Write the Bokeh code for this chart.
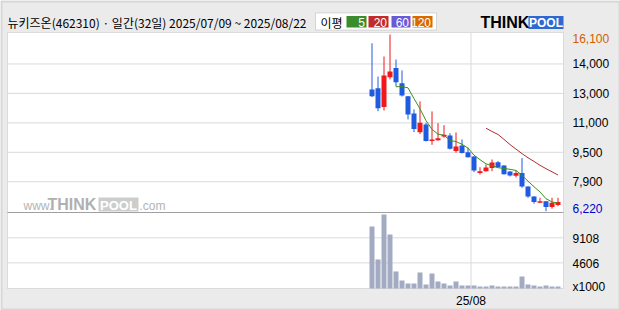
import pandas as pd
from bokeh.plotting import figure
from bokeh.models import Range1d, Label, BoxAnnotation
from bokeh.core.properties import value
from bokeh.embed import file_html
from bokeh.resources import INLINE

# ---------------- data ----------------
stock_name = "뉴키즈온(462310)"
period_text = "일간(32일) 2025/07/09 ~ 2025/08/22"
dates = ["2025-07-09", "2025-07-10", "2025-07-11", "2025-07-14", "2025-07-15", "2025-07-16",
         "2025-07-17", "2025-07-18", "2025-07-21", "2025-07-22", "2025-07-23", "2025-07-24",
         "2025-07-25", "2025-07-28", "2025-07-29", "2025-07-30", "2025-07-31", "2025-08-01",
         "2025-08-04", "2025-08-05", "2025-08-06", "2025-08-07", "2025-08-08", "2025-08-11",
         "2025-08-12", "2025-08-13", "2025-08-14", "2025-08-18", "2025-08-19", "2025-08-20",
         "2025-08-21", "2025-08-22"]
opens = [13030, 13100, 12040, 13710, 14220, 13380, 12650, 11680, 10640, 11070, 10140, 10190,
         10400, 10450, 9580, 9900, 9520, 9280, 8350, 8460, 8630, 8960, 8780, 8440,
         8200, 8350, 7600, 7040, 6690, 6780, 6450, 6560]
highs = [15610, 13750, 14870, 16100, 14700, 14090, 12660, 11910, 12360, 11160, 11800, 11140,
         11030, 10580, 10620, 10230, 9770, 9290, 8680, 8830, 9110, 9020, 8790, 8460,
         8500, 9190, 7610, 7050, 6970, 6790, 6970, 6970]
lows = [12600, 11810, 11850, 13590, 13190, 12630, 11350, 10640, 10530, 10120, 9930, 10160,
        10330, 9670, 9490, 9450, 9220, 8400, 8270, 8440, 8460, 8670, 8270, 8160,
        8110, 7530, 6970, 6640, 6670, 6220, 6360, 6500]
closes = [12650, 11980, 13810, 14030, 13430, 12690, 11630, 10810, 11160, 10140, 10230, 10300,
          10490, 9710, 9840, 9470, 9240, 8500, 8460, 8670, 8950, 8680, 8290, 8220,
          8350, 7600, 7040, 6730, 6770, 6450, 6690, 6730]
volumes_k = [11160, 5220, 13300, 9720, 3060, 1440, 900, 900, 2880, 720, 2700, 1260,
             900, 540, 1260, 540, 540, 540, 360, 360, 540, 360, 360, 360,
             360, 2160, 720, 540, 360, 540, 360, 360]

price_tick_labels = ["7,900", "9,500", "11,000", "13,000", "14,000"]
vol_ticks = [4606, 9108]
vol_tick_labels = ["4606", "9108"]
vol_unit_label = "x1000"
vol_scale_top = 13662
ma_periods = [5, 20, 60, 120]
ma_colors = ["#3b8c2a", "#c22b2b", "#6a5ad6", "#d86b00"]
line_colors = {5: "#3a8f1f", 20: "#b03030"}

# ---------------- layout constants (pixels) ----------------
W, H = 620, 310
FL, FR, FT, FB = 7, 563, 32, 288          # chart box on the canvas
BAR_STEP = 6.0
FIRST_BAR_PX = 371.5
PRICE_TOP_PX, PRICE_BOT_PX = 34.0, 210.7
VOL_TOP_PX = 212.0
LABEL_PX = 572

UP = "#f01818"
DOWN = "#1f5be0"
VOL_COLOR = "#a3abc3"
GRID = "#dadada"
BORDER = "#a0a0a0"
NUM_FONT = "Liberation Sans"
KO_FONT = "Noto Sans CJK KR"

n = len(closes)
xs = list(range(n))
hi, lo = max(highs), min(lows)
ppx = (hi - lo) / (PRICE_BOT_PX - PRICE_TOP_PX)       # price per pixel
vpx = vol_scale_top / (FB - VOL_TOP_PX)                # volume per pixel


def px_to_x(px):
    return (px - FIRST_BAR_PX) / BAR_STEP


def py_to_price(py):
    return hi - (py - PRICE_TOP_PX) * ppx


def py_to_vol(py):
    return (FB - py) * vpx


p = figure(width=W, height=H, title=None,
           x_range=Range1d(px_to_x(0), px_to_x(W)),
           y_range=Range1d(py_to_price(H), py_to_price(0)),
           output_backend="svg", toolbar_location=None,
           x_axis_location=None, y_axis_location=None,
           min_border=0, min_border_left=0, min_border_right=0, min_border_top=0, min_border_bottom=0,
           background_fill_color="#ebebeb", border_fill_color="#ebebeb", outline_line_color=None)
p.grid.visible = False
p.extra_y_ranges = {"vol": Range1d(py_to_vol(H), py_to_vol(0))}

# chart box (white)
p.add_layout(BoxAnnotation(left=FL, right=FR, top=FT, bottom=FB,
                           left_units="canvas", right_units="canvas",
                           top_units="canvas", bottom_units="canvas",
                           fill_color="white", fill_alpha=1, line_color=BORDER, line_width=1,
                           level="underlay"))

xl, xr = px_to_x(FL), px_to_x(FR)

# grid lines
price_grid = [int(round(lo + k * (hi - lo) / 6)) for k in range(1, 6)]
p.segment(x0=[xl] * len(price_grid), x1=[xr] * len(price_grid), y0=price_grid, y1=price_grid,
          line_color=GRID, line_width=1)
p.segment(x0=[xl] * len(vol_ticks), x1=[xr] * len(vol_ticks), y0=vol_ticks, y1=vol_ticks,
          line_color=GRID, line_width=1, y_range_name="vol")
month_idx = next(i for i in range(1, n) if dates[i][5:7] != dates[i - 1][5:7])
month_tick = month_idx - 0.5
month_label = dates[month_idx][2:4] + "/" + dates[month_idx][5:7]
p.segment(x0=[month_tick], x1=[month_tick], y0=[0], y1=[py_to_vol(FT)],
          line_color=GRID, line_width=1, y_range_name="vol")

# separator between price and volume panes
p.segment(x0=[xl], x1=[xr], y0=[vol_scale_top], y1=[vol_scale_top],
          line_color=BORDER, line_width=1, y_range_name="vol")

# volume
p.vbar(x=xs, top=volumes_k, bottom=0, width=5 / BAR_STEP, y_range_name="vol",
       fill_color=VOL_COLOR, line_color=None)

# candles
cols = [UP if c >= o else DOWN for o, c in zip(opens, closes)]
p.segment(x0=xs, y0=lows, x1=xs, y1=highs, line_color=cols, line_width=1)
p.vbar(x=xs, top=[max(o, c) for o, c in zip(opens, closes)],
       bottom=[min(o, c) for o, c in zip(opens, closes)],
       width=5 / BAR_STEP, fill_color=cols, line_color=None)

# moving averages
s = pd.Series(closes, dtype=float)
for per in (5, 20):
    ma = s.rolling(per).mean()
    idx = [i for i in xs if not pd.isna(ma[i])]
    p.line(x=idx, y=[ma[i] for i in idx], line_color=line_colors[per], line_width=1)

# right-side scale labels
lx = px_to_x(LABEL_PX)
p.text(x=[lx] * len(price_grid), y=price_grid, text=price_tick_labels,
       text_font=value(NUM_FONT), text_font_size="12px", text_color="black",
       text_baseline="middle", text_align="left")
p.text(x=[lx], y=[hi], text=["{:,}".format(hi)], y_offset=3.7,
       text_font=value(NUM_FONT), text_font_size="12px", text_color="#d06000",
       text_baseline="middle", text_align="left")
p.text(x=[lx], y=[lo], text=["{:,}".format(lo)], y_offset=-2.7,
       text_font=value(NUM_FONT), text_font_size="12px", text_color="#0000cc",
       text_baseline="middle", text_align="left")
p.text(x=[lx] * len(vol_ticks), y=vol_ticks, text=vol_tick_labels, y_offset=1,
       text_font=value(NUM_FONT), text_font_size="12px", text_color="black",
       text_baseline="middle", text_align="left", y_range_name="vol")
p.text(x=[lx], y=[0], text=[vol_unit_label], y_offset=-1.3,
       text_font=value(NUM_FONT), text_font_size="12px", text_color="black",
       text_baseline="middle", text_align="left", y_range_name="vol")
p.text(x=[month_tick], y=[0], text=[month_label], y_offset=12,
       text_font=value(NUM_FONT), text_font_size="12px", text_color="black",
       text_baseline="middle", text_align="center", y_range_name="vol")


def lab(x, y, text, color="black", size="12px", font=NUM_FONT, align="left", style="normal"):
    p.add_layout(Label(x=x, y=y, x_units="canvas", y_units="canvas", text=text,
                       text_color=color, text_font_size=size, text_font=font,
                       text_align=align, text_baseline="middle", text_font_style=style))


def box(l, r, t, b, fill, line=None, lw=1):
    p.add_layout(BoxAnnotation(left=l, right=r, top=t, bottom=b,
                               left_units="canvas", right_units="canvas",
                               top_units="canvas", bottom_units="canvas",
                               fill_color=fill if fill else "white", fill_alpha=1 if fill else 0,
                               line_color=line, line_width=lw))


# header
lab(7, 21.5, stock_name + " · " + period_text, font=KO_FONT, size="12px")
box(315, 436, 12.5, 29.5, "white", "#8c8c8c")
lab(320, 21.5, "이평", font=KO_FONT, size="12px")
box_edges = [(346, 366), (368, 388), (391, 410), (412, 432)]
for (l, r), per, c in zip(box_edges, ma_periods, ma_colors):
    box(l, r, 15.5, 27, c)
for (l, r), per in zip(box_edges, ma_periods):
    lab(r - 1.5, 21.5, str(per), color="white", size="12px", align="right")

# logo
box(528, 563, 15.5, 28.5, "#2f69cf")
lab(480, 22, "THINK", size="16px", font="Liberation Sans", style="bold")
lab(545.5, 22.5, "POOL", color="white", size="12px", font="Liberation Sans", align="center", style="bold")

# watermark
box(98, 138, 197, 211, "#cdcdcd")
lab(23, 205, "www.", color="#b4b4b4", size="12px")
lab(47, 204, "THINK", color="#b0b0b0", size="16px", font="Liberation Sans", style="bold")
lab(118, 204.5, "POOL", color="white", size="13px", font="Liberation Sans", align="center", style="bold")
lab(139, 205, ".com", color="#b4b4b4", size="12px")

# outer border
box(1, 619, 1, 309, None, "#a8a8a8", 2)

open("out.html", "w").write(file_html(p, INLINE))
